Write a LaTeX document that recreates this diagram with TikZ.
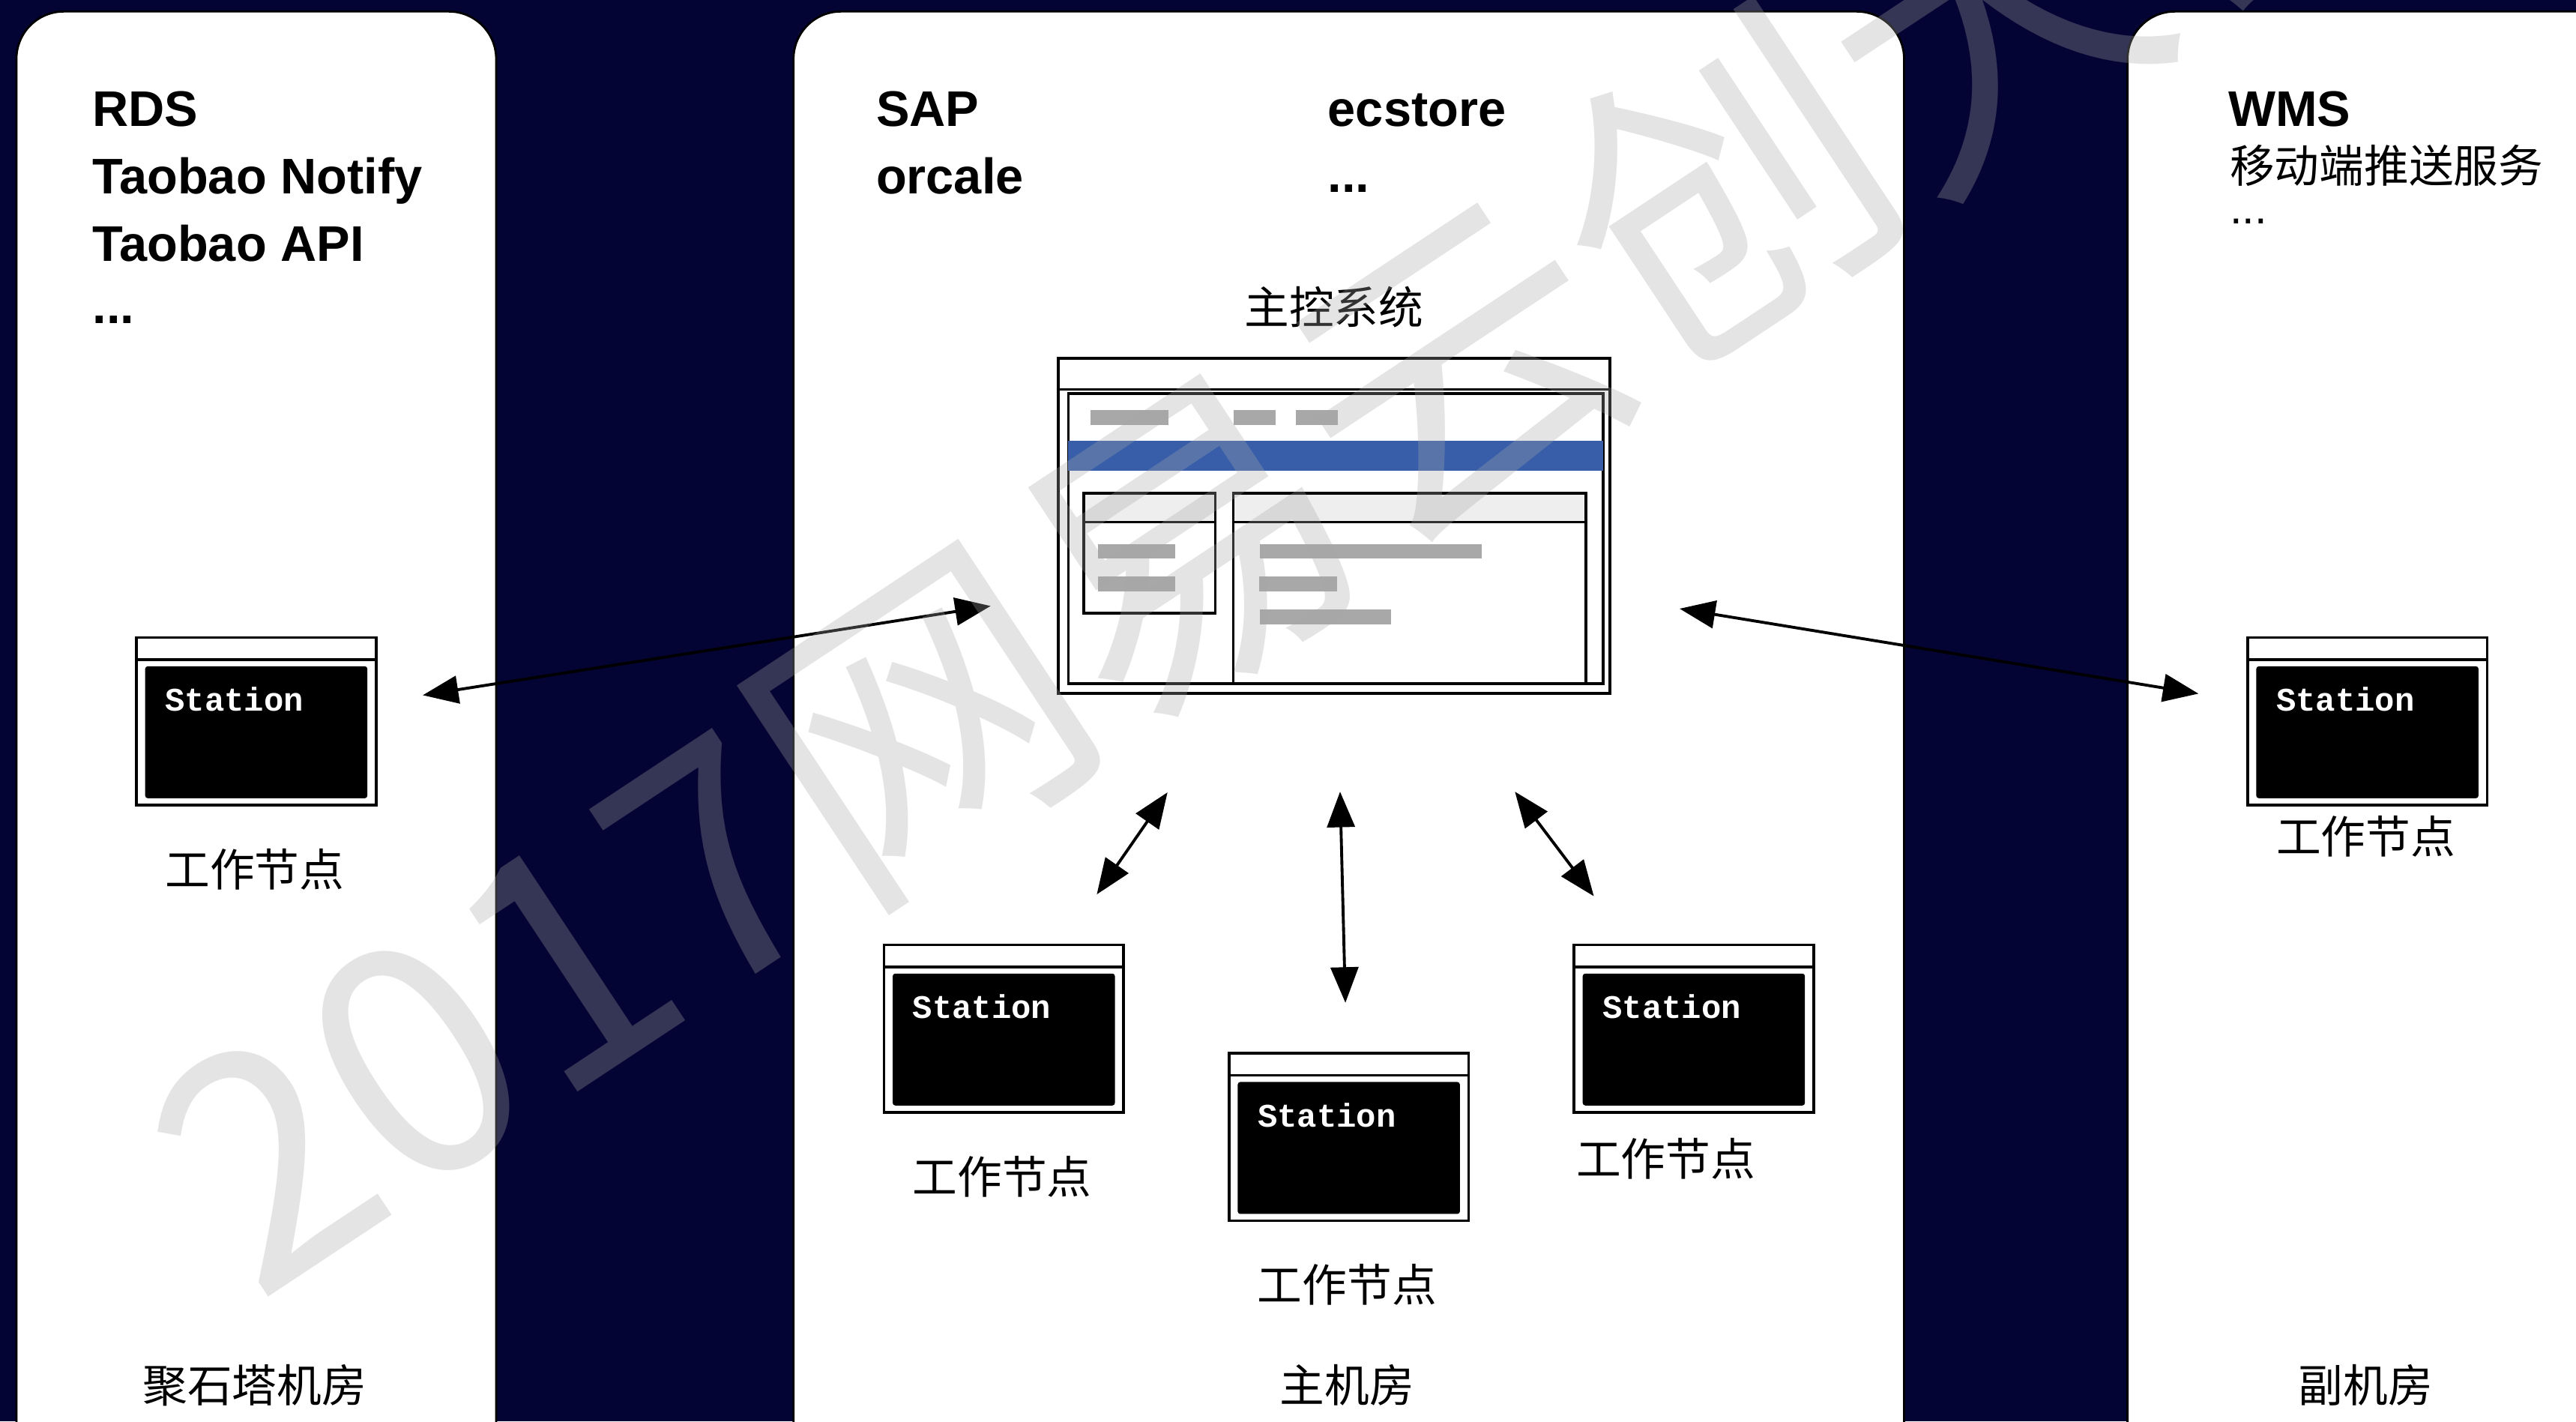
\documentclass[tikz,border=0pt]{standalone}
\usepackage{fontspec}
\setmainfont{Liberation Sans}
\newfontfamily\cjk{Noto Sans CJK SC}
\newfontfamily\mono{Liberation Mono}
\usetikzlibrary{arrows.meta}
\definecolor{navy}{RGB}{4,4,52}
\definecolor{barblue}{RGB}{56,94,170}
\definecolor{bargray}{RGB}{168,168,168}
\definecolor{headgray}{RGB}{238,238,238}
\definecolor{markgray}{RGB}{167,167,167}

\begin{document}
\begin{tikzpicture}
        [x=0.02192cm,y=-0.02192cm,every node/.style={inner sep=0pt}]
        \fill[navy] (0,0) rectangle (1568,865);
        \useasboundingbox (0,0) rectangle (1568,865);
        \clip (0,0) rectangle (1568,865);
        \tikzset{RoomStyle/.style    = {fill=white, draw=black, line width=.8pt,
                                        rounded corners=18pt},
                 SysStyle/.style     = {font=\bfseries\fontsize{19}{23}\selectfont,
                                        anchor=base west},
                 CnStyle/.style      = {font=\cjk\fontsize{17}{20}\selectfont},
                 WindowStyle/.style  = {draw, line width=1pt, fill=white,
                                        minimum width=209.5pt, minimum height=127.2pt},
                 StationStyle/.style = {draw, line width=1pt, fill=white, text=white,
                                        font=\mono\bfseries\fontsize{12.5}{14}\selectfont,
                                        text width=69.2pt, align=left,
                                        inner xsep=10.9pt, inner ysep=0pt,
                                        text height=28pt, text depth=35.6pt,
                                        path picture={
                                          \draw[line width=1pt]
                                            ([yshift=-8.4pt]path picture bounding box.north west) --
                                            ([yshift=-8.4pt]path picture bounding box.north east);
                                          \fill[black, rounded corners=1pt]
                                            ([xshift=3.3pt,yshift=-10.9pt]path picture bounding box.north west) rectangle
                                            ([xshift=-3.3pt,yshift=2.6pt]path picture bounding box.south east);
                                        }},
                 LinkStyle/.style    = {{Triangle[length=13.5pt,width=10.5pt]}-{Triangle[length=13.5pt,width=10.5pt]},
                                        line width=1.1pt}}
        % machine rooms
        \draw[RoomStyle] (10,7) rectangle (302,920);
        \draw[RoomStyle] (483,7) rectangle (1159,920);
        \draw[RoomStyle] (1295,7) rectangle (1620,920);
        % systems
        \node[SysStyle] (rds) at (56,77) {RDS};
        \node[SysStyle] (notify) at (56,118) {Taobao Notify};
        \node[SysStyle] (api) at (56,159) {Taobao API};
        \node[SysStyle] (moreL) at (56,197) {...};
        \node[SysStyle] (sap) at (533,77) {SAP};
        \node[SysStyle] (orcale) at (533,118) {orcale};
        \node[SysStyle] (ecstore) at (808,77) {ecstore};
        \node[SysStyle] (moreM) at (808,117) {...};
        \node[SysStyle] (wms) at (1356,77) {WMS};
        \node[CnStyle, anchor=west] (push) at (1357,101) {移动端推送服务};
        \node[anchor=base west, font=\fontsize{17}{20}\selectfont] (moreR) at (1357,136) {...};
        % master
        \node[CnStyle] (title) at (812,187) {主控系统};
        \node[WindowStyle] (master) at (812,320) {};
        \draw[line width=1pt] (644,237) -- (980,237);
        \draw[line width=1pt] (650.3,239.5) rectangle (975.8,416);
        \fill[barblue] (650,268.3) rectangle (975.8,286.3);
        \draw[line width=1pt, fill=headgray] (659.6,300.3) rectangle (739.8,317.7);
        \draw[line width=1pt] (659.6,317.7) rectangle (739.8,373.1);
        \draw[line width=1pt, fill=headgray] (750.7,300.3) rectangle (965.3,317.7);
        \draw[line width=1pt] (750.7,317.7) rectangle (965.3,416);
        \foreach \xa/\xb/\ya in {664/711.4/249.7, 751/776.6/249.7, 788.8/814.4/249.7,
                                 668.2/715.4/331, 668.2/715.4/350.8,
                                 767/902/331, 766.5/814/350.8, 767/846.7/370.8}
            \fill[bargray] (\xa,\ya) rectangle (\xb,\ya+9);
        % stations
        \node[StationStyle] (stL) at (156,439) {Station};
        \node[StationStyle] (stML) at (611,626) {Station};
        \node[StationStyle] (stMC) at (821,692) {Station};
        \node[StationStyle] (stMR) at (1031,626) {Station};
        \node[StationStyle] (stR) at (1441,439) {Station};
        \node[CnStyle] (workL) at (155,529) {工作节点};
        \node[CnStyle] (workML) at (610,716) {工作节点};
        \node[CnStyle] (workMC) at (820,782) {工作节点};
        \node[CnStyle] (workMR) at (1014,705) {工作节点};
        \node[CnStyle] (workR) at (1440,509) {工作节点};
        \node[CnStyle] (roomL) at (155,843) {聚石塔机房};
        \node[CnStyle] (roomM) at (820,843) {主机房};
        \node[CnStyle] (roomR) at (1440,843) {副机房};
        % links
        \coordinate (hub) at (812,336);
        \foreach \to/\a/\b in {stL/132pt/64pt, stR/133pt/65pt, stML/111pt/62pt,
                               stMC/91pt/51pt, stMR/114pt/63pt}
            \draw[LinkStyle, shorten <=\a, shorten >=\b] (hub) -- (\to.center);
        % watermark
        \node[anchor=base west, rotate=33.5, text=markgray, opacity=.3,
              font=\cjk\fontsize{122}{122}\selectfont] (mark) at (156,794) {2017网易云创大会};
    \end{tikzpicture}
\end{document}
